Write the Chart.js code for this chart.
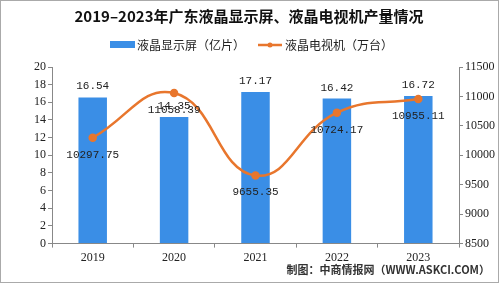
<!DOCTYPE html>
<html>
<head>
<meta charset="utf-8">
<script src="https://cdn.jsdelivr.net/npm/chart.js@4/dist/chart.umd.min.js"></script>
<style>
  body { margin: 0; background: #fff; }
  #wrap { width: 499px; height: 283px; position: relative; }
</style>
</head>
<body>
<div id="wrap"><canvas id="chartTrend" width="499" height="283"></canvas></div>
<script>
var years = ['2019', '2020', '2021', '2022', '2023'];
var panels = [16.54, 14.35, 17.17, 16.42, 16.72];       // 液晶显示屏（亿片）
var tvs = [10297.75, 11058.39, 9655.35, 10724.17, 10955.11]; // 液晶电视机（万台）
var panelLabel = '液晶显示屏（亿片）';
var tvLabel = '液晶电视机（万台）';

var blue = '#3a8ee6';
var orange = '#e8762d';

// title, legend, value labels and source line
var extras = {
    id: 'extras',
    afterDatasetsDraw: function(chart) {
        var ctx = chart.ctx;
        ctx.save();
        ctx.fillStyle = '#111';
        ctx.font = 'bold 15px "Noto Sans CJK SC"';
        ctx.textAlign = 'center';
        ctx.textBaseline = 'middle';
        ctx.fillText('2019–2023年广东液晶显示屏、液晶电视机产量情况', 249, 16);

        // legend
        ctx.fillStyle = blue;
        ctx.fillRect(110, 41, 25, 7);
        ctx.fillStyle = '#222';
        ctx.font = '12px "Noto Sans CJK SC"';
        ctx.textAlign = 'left';
        ctx.fillText(panelLabel, 137, 45);
        ctx.strokeStyle = orange;
        ctx.lineWidth = 2.5;
        ctx.beginPath(); ctx.moveTo(258, 45); ctx.lineTo(282, 45); ctx.stroke();
        ctx.fillStyle = orange;
        ctx.beginPath(); ctx.arc(270, 45, 2.5, 0, Math.PI * 2); ctx.fill();
        ctx.fillStyle = '#222';
        ctx.fillText(tvLabel, 285, 45);

        // value labels
        ctx.font = '11px "Liberation Mono"';
        ctx.textAlign = 'center';
        ctx.fillStyle = '#222';
        var bars = chart.getDatasetMeta(0).data;
        bars.forEach(function(b, i) {
            ctx.fillText(panels[i].toFixed(2), b.x, b.y - 11);
        });
        var pts = chart.getDatasetMeta(1).data;
        pts.forEach(function(p, i) {
            ctx.fillText(tvs[i].toFixed(2), p.x, p.y + 17);
        });

        // source
        ctx.font = 'bold 11px "Noto Sans CJK SC"';
        ctx.textAlign = 'right';
        ctx.fillStyle = '#333';
        ctx.fillText('制图：中商情报网（WWW.ASKCI.COM）', 490, 270);

        // frame
        ctx.strokeStyle = '#aaa';
        ctx.lineWidth = 1;
        ctx.strokeRect(0.5, 0.5, 498, 282);
        ctx.restore();
    }
};

var ctx = document.getElementById('chartTrend');
var myChart = new Chart(ctx, {
    data: {
        labels: years,
        datasets: [{
            type: 'bar',
            label: panelLabel,
            data: panels,
            backgroundColor: blue,
            barPercentage: 0.35,
            categoryPercentage: 1,
            yAxisID: 'y',
            order: 2
        }, {
            type: 'line',
            label: tvLabel,
            data: tvs,
            borderColor: orange,
            backgroundColor: orange,
            borderWidth: 2.5,
            pointRadius: 3,
            pointBackgroundColor: orange,
            tension: 0.45,
            yAxisID: 'y1',
            order: 1
        }]
    },
    options: {
        responsive: false,
        animation: false,
        layout: { padding: { top: 67, left: 32, right: 2, bottom: 15 } },
        plugins: { legend: { display: false }, title: { display: false }, tooltip: { enabled: false } },
        scales: {
            x: {
                grid: { display: true, drawOnChartArea: false, tickLength: 4, color: '#888', offset: true },
                border: { color: '#888' },
                ticks: { color: '#222', font: { family: 'Liberation Serif', size: 12 }, padding: 3 }
            },
            y: {
                position: 'left',
                min: 0, max: 20,
                ticks: { stepSize: 2, color: '#222', font: { family: 'Liberation Serif', size: 12 }, padding: 2 },
                grid: { drawOnChartArea: false, tickLength: 4, color: '#888' },
                border: { color: '#888' }
            },
            y1: {
                position: 'right',
                min: 8500, max: 11500,
                ticks: {
                    stepSize: 500, color: '#222', font: { family: 'Liberation Serif', size: 12 }, padding: 2,
                    callback: function(v) { return String(v); }
                },
                grid: { drawOnChartArea: false, tickLength: 4, color: '#888' },
                border: { color: '#888' }
            }
        }
    },
    plugins: [extras]
});
</script>
</body>
</html>
